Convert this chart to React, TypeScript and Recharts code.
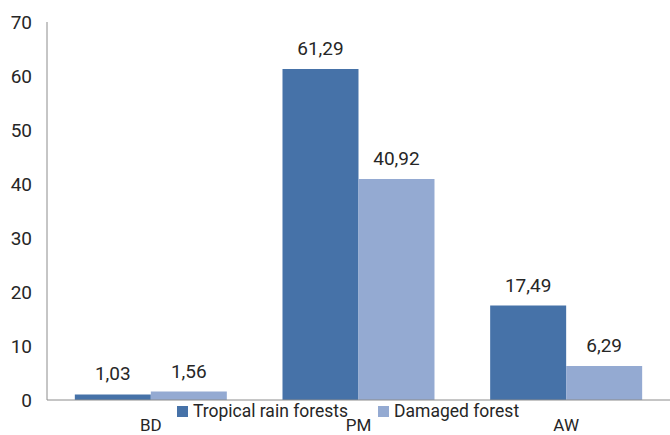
import React from 'react';
import { BarChart, Bar, XAxis, YAxis, Legend, LabelList } from 'recharts';

const categories = ['BD', 'PM', 'AW'];
const tropicalRainForests = [1.03, 61.29, 17.49];
const damagedForest = [1.56, 40.92, 6.29];
const yTicks = [0, 10, 20, 30, 40, 50, 60, 70];

const DARK = '#4672A8';
const LIGHT = '#94AAD2';
const FONT = 'Roboto, "Liberation Sans", sans-serif';

const data = categories.map((name, i) => ({
  name,
  tropical: tropicalRainForests[i],
  damaged: damagedForest[i],
}));

const fmt = (v: any) => Number(v).toFixed(2).replace('.', ',');

const LegendContent = () => {
  const items = [
    { label: 'Tropical rain forests', color: DARK },
    { label: 'Damaged forest', color: LIGHT },
  ];
  return (
    <div style={{ display: 'flex', justifyContent: 'center', alignItems: 'center', fontFamily: FONT, fontSize: 17.5, color: '#262626', lineHeight: '20px', paddingLeft: 26 }}>
      {items.map((it, i) => (
        <div key={it.label} style={{ display: 'flex', alignItems: 'center', marginRight: i === 0 ? 30 : 0 }}>
          <span style={{ display: 'inline-block', width: 11, height: 11, background: it.color, marginRight: 5 }} />
          <span>{it.label}</span>
        </div>
      ))}
    </div>
  );
};

export default function App() {
  return (
    <div style={{ position: 'absolute', left: 0, top: 0, width: 670, height: 435, background: '#fff', overflow: 'hidden' }}>
      <BarChart
        width={670}
        height={435}
        data={data}
        margin={{ top: 22, right: 0, bottom: 0, left: 0 }}
        barGap={0}
        barCategoryGap="13.4%"
      >
        <XAxis
          dataKey="name"
          height={35}
          axisLine={{ stroke: '#8c8c8c' }}
          tickLine={false}
          tickSize={0}
          tickMargin={19}
          tick={{ fill: '#262626', fontSize: 17, fontFamily: FONT }}
        />
        <YAxis
          width={47}
          domain={[0, 70]}
          ticks={yTicks}
          axisLine={{ stroke: '#8c8c8c' }}
          tickLine={false}
          tickSize={0}
          tickMargin={15}
          tick={{ fill: '#262626', fontSize: 19, fontFamily: FONT }}
        />
        <Legend
          verticalAlign="middle"
          align="center"
          layout="horizontal"
          content={<LegendContent />}
          wrapperStyle={{ top: 401, left: 0, width: 670 }}
        />
        <Bar dataKey="tropical" name="Tropical rain forests" fill={DARK} isAnimationActive={false}>
          <LabelList dataKey="tropical" position="top" offset={14} formatter={fmt} style={{ fill: '#262626', fontSize: 19, fontFamily: FONT }} />
        </Bar>
        <Bar dataKey="damaged" name="Damaged forest" fill={LIGHT} isAnimationActive={false}>
          <LabelList dataKey="damaged" position="top" offset={14} formatter={fmt} style={{ fill: '#262626', fontSize: 19, fontFamily: FONT }} />
        </Bar>
      </BarChart>
    </div>
  );
}
